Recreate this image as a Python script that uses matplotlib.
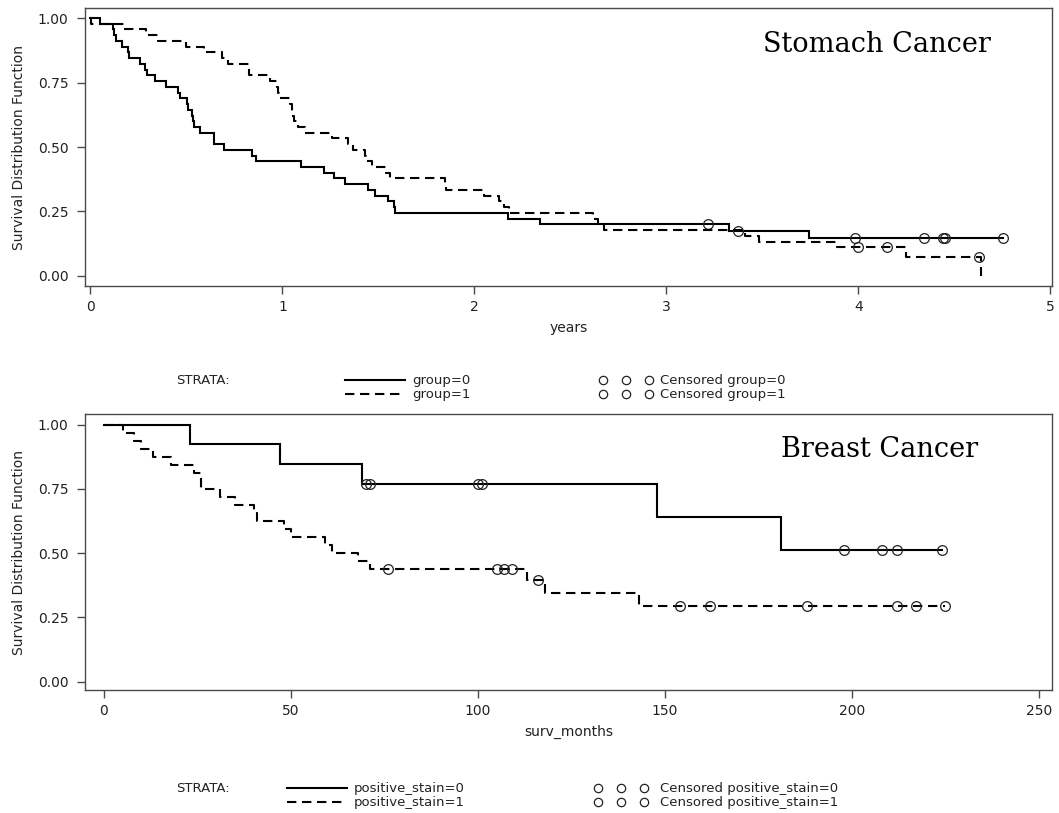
import matplotlib
matplotlib.use("Agg")
import matplotlib.pyplot as plt
from matplotlib.lines import Line2D

# ---- Stomach cancer (years) ----
stomach_t0 = [0, 0.047, 0.115, 0.120, 0.131, 0.164, 0.197, 0.203, 0.260, 0.282, 0.296,
              0.334, 0.394, 0.457, 0.465, 0.501, 0.507, 0.528, 0.534, 0.539, 0.569,
              0.641, 0.643, 0.695, 0.841, 0.862, 1.098, 1.218, 1.270, 1.325, 1.446,
              1.484, 1.552, 1.580, 1.588, 2.177, 2.341, 3.324, 3.740, 4.753]
stomach_s0 = [1.0, 0.978, 0.956, 0.933, 0.911, 0.889, 0.867, 0.844, 0.822, 0.800, 0.778,
              0.756, 0.733, 0.711, 0.689, 0.667, 0.644, 0.622, 0.600, 0.578, 0.556,
              0.533, 0.511, 0.489, 0.467, 0.444, 0.422, 0.400, 0.378, 0.356, 0.333,
              0.311, 0.289, 0.267, 0.244, 0.222, 0.200, 0.175, 0.146, 0.146]
stomach_c0_t = [3.214, 3.373, 3.984, 4.339, 4.441, 4.452, 4.753]
stomach_c0_s = [0.200, 0.175, 0.146, 0.146, 0.146, 0.146, 0.146]

stomach_t1 = [0, 0.003, 0.172, 0.287, 0.353, 0.498, 0.591, 0.684, 0.717, 0.824, 0.936,
              0.969, 0.975, 0.980, 1.040, 1.049, 1.062, 1.079, 1.117, 1.259, 1.339,
              1.366, 1.432, 1.435, 1.465, 1.539, 1.558, 1.848, 1.851, 2.048, 2.130,
              2.152, 2.182, 2.615, 2.645, 2.675, 3.409, 3.480, 3.888, 4.246, 4.638]
stomach_s1 = [1.0, 0.978, 0.956, 0.933, 0.911, 0.889, 0.867, 0.844, 0.822, 0.778, 0.756,
              0.733, 0.711, 0.689, 0.667, 0.622, 0.600, 0.578, 0.556, 0.533, 0.511,
              0.489, 0.467, 0.444, 0.422, 0.400, 0.378, 0.356, 0.333, 0.311, 0.289,
              0.267, 0.244, 0.222, 0.200, 0.178, 0.156, 0.133, 0.111, 0.074, 0.0]
stomach_c1_t = [3.997, 4.149, 4.627]
stomach_c1_s = [0.111, 0.111, 0.074]

# ---- Breast cancer (months) ----
breast_t0 = [0, 23, 47, 69, 148, 181, 224]
breast_s0 = [1.0, 0.923, 0.846, 0.769, 0.641, 0.513, 0.513]
breast_c0_t = [70, 71, 100, 101, 198, 208, 212, 224]
breast_c0_s = [0.769, 0.769, 0.769, 0.769, 0.513, 0.513, 0.513, 0.513]

breast_t1 = [0, 5, 8, 10, 13, 18, 24, 26, 31, 35, 40, 41, 48, 50, 59, 61, 68, 71,
             113, 118, 143, 225]
breast_s1 = [1.0, 0.969, 0.938, 0.906, 0.875, 0.844, 0.813, 0.750, 0.719, 0.688, 0.656,
             0.625, 0.594, 0.563, 0.531, 0.500, 0.469, 0.438, 0.394, 0.345, 0.295, 0.295]
breast_c1_t = [76, 105, 107, 109, 116, 154, 162, 188, 212, 217, 225]
breast_c1_s = [0.438, 0.438, 0.438, 0.438, 0.394, 0.295, 0.295, 0.295, 0.295, 0.295, 0.295]

y_ticks = [0.0, 0.25, 0.5, 0.75, 1.0]

W, H = 1059, 813
FRAME = "#4a4a4a"
TXT = "#222222"
DASH = (4.5, 2.7)
plt.rcParams["font.family"] = "DejaVu Sans"

fig = plt.figure(figsize=(W / 100, H / 100), dpi=100)


def px_axes(left, top, right, bottom):
    return fig.add_axes([left / W, 1 - bottom / H, (right - left) / W, (bottom - top) / H])


def km_panel(ax, curves, xlim, ylim, xticks, xlabel, title, title_xy):
    for t, s, ct, cs, solid in curves:
        ln, = ax.plot(t, s, drawstyle="steps-post", color="black", lw=1.5,
                      solid_joinstyle="miter")
        if not solid:
            ln.set_dashes(DASH)
        ax.plot(ct, cs, "o", ms=7, mfc="none", mec="#222222", mew=0.9)
    ax.set_xlim(*xlim)
    ax.set_ylim(*ylim)
    ax.set_xticks(xticks)
    ax.set_yticks(y_ticks)
    ax.set_yticklabels([f"{v:.2f}" for v in y_ticks])
    ax.tick_params(direction="out", length=6, width=1, color=FRAME,
                   labelsize=10, labelcolor=TXT, pad=6)
    ax.tick_params(axis="x", pad=4)
    for sp in ax.spines.values():
        sp.set_color(FRAME)
        sp.set_linewidth(1.0)
    ax.set_ylabel("Survival Distribution Function", fontsize=10, color=TXT, labelpad=8)
    ax.set_xlabel(xlabel, fontsize=10, color=TXT, labelpad=5)
    fig.text(title_xy[0] / W, 1 - title_xy[1] / H, title, family="DejaVu Serif",
             fontsize=19.5, va="baseline", ha="left", color="black")


def strata_legend(y_px, line_x, circ_x, lab0, lab1):
    y0 = 1 - y_px / H
    y1 = 1 - (y_px + 14) / H
    fig.text(176 / W, y0, "STRATA:", fontsize=9.5, color=TXT, va="center")
    fig.add_artist(Line2D([line_x / W, (line_x + 60) / W], [y0, y0],
                          transform=fig.transFigure, color="black", lw=1.5))
    dl = Line2D([line_x / W, (line_x + 60) / W], [y1, y1], transform=fig.transFigure,
                color="black", lw=1.5)
    dl.set_dashes(DASH)
    fig.add_artist(dl)
    fig.text((line_x + 67) / W, y0, lab0, fontsize=9.5, color=TXT, va="center")
    fig.text((line_x + 67) / W, y1, lab1, fontsize=9.5, color=TXT, va="center")
    for yy, lab in ((y0, lab0), (y1, lab1)):
        fig.add_artist(Line2D([circ_x / W, (circ_x + 23) / W, (circ_x + 46) / W], [yy] * 3,
                              transform=fig.transFigure, ls="none", marker="o", ms=6,
                              mfc="none", mec="#222222", mew=0.9))
        fig.text(660 / W, yy, "Censored " + lab, fontsize=9.5, color=TXT, va="center")


ax1 = px_axes(85, 8, 1052, 286)
km_panel(ax1,
         [(stomach_t0, stomach_s0, stomach_c0_t, stomach_c0_s, True),
          (stomach_t1, stomach_s1, stomach_c1_t, stomach_c1_s, False)],
         (-0.0286, 5.008), (-0.0388, 1.0388), [0, 1, 2, 3, 4, 5], "years",
         "Stomach Cancer", (763, 52))

ax2 = px_axes(85, 414, 1052, 690)
km_panel(ax2,
         [(breast_t0, breast_s0, breast_c0_t, breast_c0_s, True),
          (breast_t1, breast_s1, breast_c1_t, breast_c1_s, False)],
         (-5.08, 253.5), (-0.0323, 1.0416), [0, 50, 100, 150, 200, 250], "surv_months",
         "Breast Cancer", (781, 457))

strata_legend(380, 345, 603, "group=0", "group=1")
strata_legend(788, 287, 598, "positive_stain=0", "positive_stain=1")

fig.savefig("out.png", dpi=100)
